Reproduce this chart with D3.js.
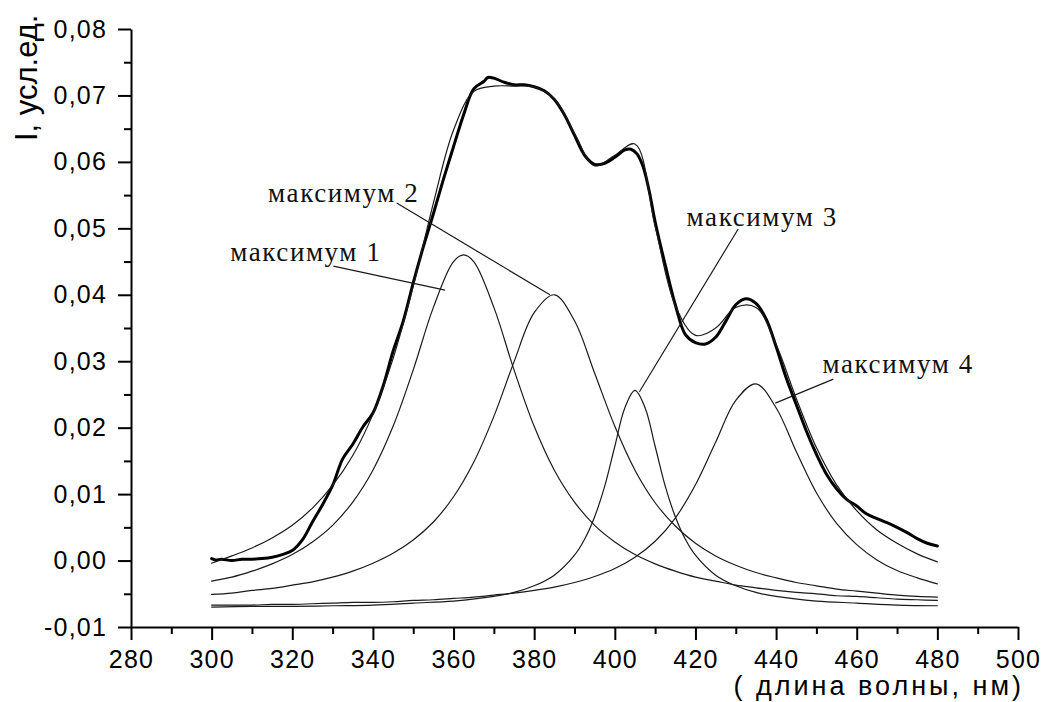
<!DOCTYPE html>
<html>
<head>
<meta charset="utf-8">
<script src="https://cdn.jsdelivr.net/npm/d3@7"></script>
<style>
  body { margin: 0; background: #fff; }
  svg { display: block; }
</style>
</head>
<body>
<svg id="chart" width="1046" height="702"></svg>
<script>
// Wavelength grid (nm) shared by the broad fitted components and their sum
const wavelength = [300,305,310,315,320,325,330,335,340,345,350,355,360,365,370,375,380,385,390,
                    395,400,405,410,415,420,425,430,435,440,445,450,455,460,465,470,475,480];

// Fitted Lorentzian components, I (arb. units)
const peak1Wavelength = [300,305,310,315,320,325,330,335,340,345,350,355,360,362.5,365,370,375,380,385,390,
                         395,400,405,410,415,420,425,430,435,440,445,450,455,460,465,470,475,480];
const peak1 = [-0.0031,-0.0025,-0.0016,-0.0005,0.0009,0.0028,0.0053,0.0088,0.0136,0.0202,0.0287,0.0381,0.0450,0.0460,
               0.0450,0.0381,0.0287,0.0202,0.0136,0.0088,0.0053,0.0028,0.0009,-0.0005,-0.0016,-0.0025,
               -0.0031,-0.0037,-0.0041,-0.0045,-0.0048,-0.0050,-0.0053,-0.0054,-0.0056,-0.0058,-0.0059,-0.0060];
const peak2 = [-0.0051,-0.0049,-0.0045,-0.0042,-0.0037,-0.0032,-0.0025,-0.0016,-0.0004,0.0011,0.0031,0.0058,0.0096,
               0.0148,0.0217,0.0299,0.0373,0.0400,0.0361,0.0282,0.0202,0.0136,0.0087,0.0052,0.0026,
               0.0007,-0.0007,-0.0018,-0.0026,-0.0033,-0.0038,-0.0043,-0.0046,-0.0049,-0.0052,-0.0054,-0.0055];
const peak4 = [-0.0067,-0.0067,-0.0067,-0.0066,-0.0066,-0.0065,-0.0064,-0.0063,-0.0063,-0.0062,-0.0060,-0.0059,-0.0057,
               -0.0055,-0.0052,-0.0049,-0.0045,-0.0040,-0.0033,-0.0024,-0.0012,0.0005,0.0029,0.0064,0.0114,
               0.0178,0.0241,0.0266,0.0230,0.0164,0.0102,0.0056,0.0024,0.0001,-0.0015,-0.0026,-0.0035];
// Cumulative fit
const fitSum = [-0.0004,0.0007,0.0019,0.0034,0.0053,0.0079,0.0113,0.0158,0.0220,0.0304,0.0413,0.0538,0.0648,
                0.0706,0.0714,0.0714,0.0713,0.0695,0.0643,0.0594,0.0610,0.0627,0.0503,0.0384,0.0339,
                0.0350,0.0381,0.0381,0.0325,0.0244,0.0170,0.0114,0.0075,0.0046,0.0026,0.0010,-0.0002];

// Narrow component sampled more densely around its centre
const peak3Wavelength = [300,310,320,330,340,350,360,370,375,380,385,390,392.5,395,397.5,400,402.5,405,
                         407.5,410,412.5,415,417.5,420,425,430,435,440,450,460,470,480];
const peak3 = [-0.0070,-0.0069,-0.0069,-0.0068,-0.0067,-0.0064,-0.0061,-0.0054,-0.0048,-0.0038,-0.0022,0.0008,
               0.0032,0.0066,0.0112,0.0172,0.0230,0.0256,0.0230,0.0172,0.0112,0.0066,0.0032,0.0008,
               -0.0022,-0.0038,-0.0048,-0.0054,-0.0061,-0.0064,-0.0067,-0.0068];

// Measured spectrum
const measuredWavelength = [300,301,302.5,305,307.5,310,312.5,315,317.5,320,322.5,325,327.5,330,332.5,335,337.5,340,
                            342.5,345,347.5,350,352.5,355,357.5,360,362.5,365,367.5,368.5,370,372.5,375,377.5,380,
                            382.5,385,387.5,390,392.5,395,397.5,400,402.5,404,405.5,407,408.5,410,412.5,415,417.5,
                            420,422.5,425,427.5,430,432.5,435,437.5,440,442.5,445,447.5,450,452.5,455,457.5,460,
                            462.5,465,467.5,470,472.5,475,477.5,480];
const measured = [0.0003,0.0001,0.0002,0.0000,0.0002,0.0002,0.0003,0.0005,0.0009,0.0015,0.0031,0.0058,0.0084,0.0113,
                  0.0153,0.0175,0.0201,0.0222,0.0262,0.0315,0.0360,0.0418,0.0472,0.0522,0.0574,0.0623,0.0671,0.0710,
                  0.0721,0.0727,0.0726,0.0720,0.0716,0.0716,0.0713,0.0707,0.0694,0.0671,0.0640,0.0610,0.0596,0.0598,
                  0.0607,0.0618,0.0619,0.0612,0.0593,0.0557,0.0510,0.0445,0.0385,0.0340,0.0328,0.0326,0.0336,0.0360,
                  0.0385,0.0394,0.0387,0.0364,0.0322,0.0275,0.0235,0.0195,0.0160,0.0130,0.0108,0.0092,0.0082,0.0070,
                  0.0063,0.0057,0.0050,0.0042,0.0033,0.0026,0.0022];

// Axis ticks
const xMajorTicks = [280,300,320,340,360,380,400,420,440,460,480,500];
const xMinorTicks = [290,310,330,350,370,390,410,430,450,470,490];
const yMajorTicks = [-0.01,0.00,0.01,0.02,0.03,0.04,0.05,0.06,0.07,0.08];
const yMinorTicks = [-0.005,0.005,0.015,0.025,0.035,0.045,0.055,0.065,0.075];

// Peak labels with leader lines (data coordinates)
const peakLabels = ["максимум 1","максимум 2","максимум 3","максимум 4"];
const labelAnchor = [[304.6,0.0451],[314.0,0.0540],[417.8,0.0504],[451.5,0.0283]];
const leaderFrom = [[330.2,0.0443],[345.9,0.0538],[430.6,0.0499],[454.2,0.0273]];
const leaderTo = [[357.9,0.0407],[383.9,0.0400],[406.1,0.0254],[439.8,0.0237]];

const svg = d3.select("#chart");
const x = d3.scaleLinear().domain([280, 500]).range([131, 1018]);
const y = d3.scaleLinear().domain([-0.01, 0.08]).range([627, 29]);

const fmtY = d => d.toFixed(2).replace(".", ",");

function drawCurve(xs, ys, stroke, width, curve) {
  const pts = xs.map((w, i) => [x(w), y(ys[i])]);
  svg.append("path")
    .attr("d", d3.line().curve(curve)(pts))
    .attr("fill", "none")
    .attr("stroke", stroke)
    .attr("stroke-width", width)
    .attr("stroke-linejoin", "round")
    .attr("stroke-linecap", "round");
}

// Curves
const cr = d3.curveCatmullRom.alpha(0.5);
const thinStroke = "#1a1a1a", thinWidth = 1.2;
drawCurve(peak1Wavelength, peak1, thinStroke, thinWidth, cr);
drawCurve(wavelength, peak2, thinStroke, thinWidth, cr);
drawCurve(peak3Wavelength, peak3, thinStroke, thinWidth, cr);
drawCurve(wavelength, peak4, thinStroke, thinWidth, cr);
drawCurve(measuredWavelength, measured, "#000", 3, cr);
drawCurve(wavelength, fitSum, thinStroke, thinWidth, cr);

// Axes
const axisFont = "'Liberation Sans', Arial, sans-serif";

const gx = svg.append("g").attr("transform", "translate(0,627)");
gx.call(d3.axisBottom(x).tickValues(xMajorTicks).tickSize(13).tickSizeOuter(0).tickPadding(10).tickFormat(d3.format("d")));
gx.append("g").call(d3.axisBottom(x).tickValues(xMinorTicks).tickSize(7).tickFormat(""))
  .select(".domain").remove();

const gy = svg.append("g").attr("transform", "translate(131,0)");
gy.call(d3.axisLeft(y).tickValues(yMajorTicks).tickSize(13).tickSizeOuter(0).tickPadding(11).tickFormat(fmtY));
gy.append("g").call(d3.axisLeft(y).tickValues(yMinorTicks).tickSize(7).tickFormat(""))
  .select(".domain").remove();

svg.selectAll(".domain").attr("stroke", "#000").attr("stroke-width", 2);
svg.selectAll(".tick line").attr("stroke", "#000").attr("stroke-width", 2);
svg.selectAll(".tick text")
  .attr("fill", "#000")
  .style("font-family", axisFont)
  .style("font-size", "25px")
  .style("letter-spacing", "1.2px");

// Axis titles
svg.append("text")
  .attr("transform", "translate(37,141) rotate(-90)")
  .attr("fill", "#000")
  .style("font-family", axisFont)
  .style("font-size", "31px")
  .text("I, усл.ед.");

svg.append("text")
  .attr("x", 1024).attr("y", 695)
  .attr("text-anchor", "end")
  .attr("fill", "#000")
  .style("font-family", axisFont)
  .style("font-size", "27px")
  .style("letter-spacing", "3px")
  .text("( длина волны, нм)");

// Peak annotations
peakLabels.forEach((label, i) => {
  svg.append("line")
    .attr("x1", x(leaderFrom[i][0])).attr("y1", y(leaderFrom[i][1]))
    .attr("x2", x(leaderTo[i][0])).attr("y2", y(leaderTo[i][1]))
    .attr("stroke", "#1a1a1a").attr("stroke-width", 1.2);
  svg.append("text")
    .attr("x", x(labelAnchor[i][0])).attr("y", y(labelAnchor[i][1]))
    .attr("fill", "#111")
    .style("font-family", "'Liberation Serif', 'Times New Roman', serif")
    .style("font-size", "27px")
    .style("letter-spacing", "1.6px")
    .text(label);
});
</script>
</body>
</html>
